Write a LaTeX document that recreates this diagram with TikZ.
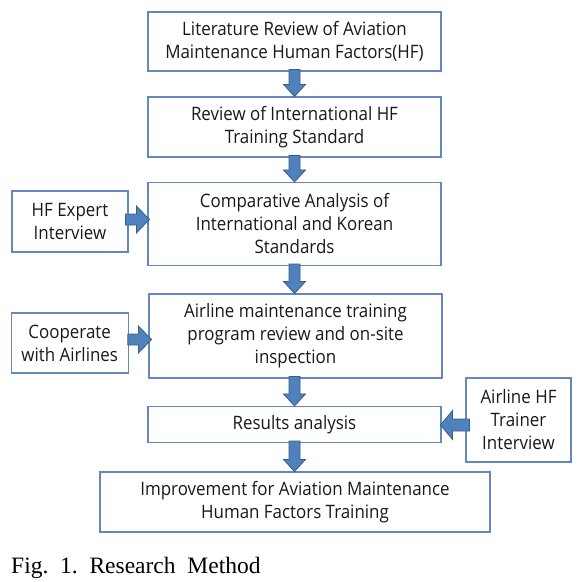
\documentclass[tikz,border=0pt]{standalone}
\usepackage{fontspec}
\setmainfont{Open Sans}[FakeStretch=0.915]
\newfontfamily\capfont{Liberation Serif}
\usetikzlibrary{calc}
\definecolor{boxline}{HTML}{6388C0}
\definecolor{arrfill}{HTML}{4F81BD}
\definecolor{arrline}{HTML}{385D8A}
\tikzset{
  stepbox/.style={draw=boxline, line width=1.1pt, fill=white, align=center, inner sep=2pt,
    font=\fontsize{18.5}{23}\selectfont, text=black!90},
  blkarrow/.style={fill=arrfill, draw=arrline, line width=0.8pt, line join=miter}
}
\newcommand\varrow[2]{\path[blkarrow] let \p1=(#1), \p2=(#2) in
  (\x1-5.5pt,\y1) -- (\x1+5.5pt,\y1) -- (\x1+5.5pt,\y2+12pt) -- (\x1+11pt,\y2+12pt)
  -- (\x1,\y2) -- (\x1-11pt,\y2+12pt) -- (\x1-5.5pt,\y2+12pt) -- cycle;}
\newcommand\rarrow[2]{\path[blkarrow] let \p1=(#1), \p2=(#2) in
  (\x1,\y1-5.5pt) -- (\x2-13pt,\y1-5.5pt) -- (\x2-13pt,\y1-13.5pt) -- (\x2,\y1)
  -- (\x2-13pt,\y1+13.5pt) -- (\x2-13pt,\y1+5.5pt) -- (\x1,\y1+5.5pt) -- cycle;}
\newcommand\larrow[2]{\path[blkarrow] let \p1=(#1), \p2=(#2) in
  (\x1,\y1-6pt) -- (\x2+12pt,\y1-6pt) -- (\x2+12pt,\y1-14.5pt) -- (\x2,\y1)
  -- (\x2+12pt,\y1+14.5pt) -- (\x2+12pt,\y1+6pt) -- (\x1,\y1+6pt) -- cycle;}
\begin{document}
\begin{tikzpicture}[x=1pt,y=-1pt]
\useasboundingbox[fill=white] (0,0) rectangle (588,581);
\node[stepbox, minimum width=293pt, minimum height=59pt] (b1) at (294.5,41.5)
  {Literature Review of Aviation\\Maintenance Human Factors(HF)};
\node[stepbox, minimum width=293pt, minimum height=60pt] (b2) at (294.5,127)
  {Review of International HF\\Training Standard};
\node[stepbox, minimum width=293pt, minimum height=83pt] (b3) at (294.5,224)
  {Comparative Analysis of\\International and Korean\\Standards};
\node[stepbox, minimum width=293pt, minimum height=84pt] (b4) at (295.5,336)
  {Airline maintenance training\\program review and on-site\\inspection};
\node[stepbox, minimum width=293pt, minimum height=36pt] (b5) at (294.5,424.5)
  {Results analysis};
\node[stepbox, minimum width=390pt, minimum height=60pt] (b6) at (295,502)
  {Improvement for Aviation Maintenance\\Human Factors Training};
\node[stepbox, minimum width=116pt, minimum height=61pt] (e1) at (70,221.5)
  {HF Expert\\Interview};
\node[stepbox, minimum width=117pt, minimum height=60pt] (e2) at (69.7,343)
  {Cooperate\\with Airlines};
\node[stepbox, minimum width=105pt, minimum height=84pt] (e3) at (518.5,420)
  {Airline HF\\Trainer\\Interview};
\coordinate (a1s) at ($(b1.south)+(0,-2)$);
\coordinate (a2s) at ($(b2.south)+(0,-2)$);
\coordinate (a3s) at ($(b3.south)+(0,-2)$);
\coordinate (a4s) at ($(b4.south)+(-1,-2)$);
\coordinate (a5s) at ($(b5.south)+(0,-2)$);
\varrow{a1s}{b2.north}
\varrow{a2s}{b3.north}
\varrow{a3s}{b4.north -| a3s}
\varrow{a4s}{b5.north -| a4s}
\varrow{a5s}{b6.north -| a5s}
\coordinate (h1s) at ($(e1.east)+(-3,-2)$);
\coordinate (h1e) at ($(b3.west|-h1s)+(2,0)$);
\rarrow{h1s}{h1e}
\coordinate (h2s) at ($(e2.east)+(-1,-3.5)$);
\coordinate (h2e) at ($(b4.west|-h2s)+(3,0)$);
\rarrow{h2s}{h2e}
\coordinate (h3s) at ($(e3.west)+(4,5)$);
\coordinate (h3e) at ($(b5.east|-h3s)+(-1,0)$);
\larrow{h3s}{h3e}
\node[anchor=base west, inner sep=0pt, font=\capfont\fontsize{23.5}{25}\selectfont] (cap) at (11,573)
  {Fig.\ \ 1.\ \ Research\ \ Method};
\end{tikzpicture}
\end{document}
